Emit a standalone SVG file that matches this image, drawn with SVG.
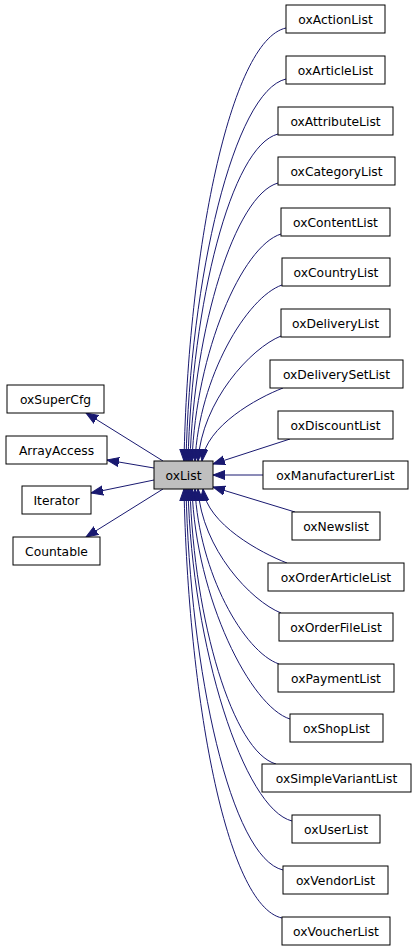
<svg xmlns="http://www.w3.org/2000/svg" width="416" height="949" viewBox="0 0 416 949">
<defs>
<style>
.n rect{fill:#ffffff;stroke:#000000;stroke-width:1}
.n text{font-family:"DejaVu Sans","Liberation Sans",sans-serif;font-size:12.3px;fill:#000000;text-anchor:middle}
#oxList rect{fill:#bfbfbf}
.e path{fill:none;stroke:#191970;stroke-width:1;marker-end:url(#arr)}
</style>
<marker id="arr" markerUnits="userSpaceOnUse" markerWidth="14" markerHeight="11" refX="12" refY="5" orient="auto">
<path d="M0,0.5 L12,5 L0,9.5 z" fill="#191970" stroke="#191970" stroke-width="1"/>
</marker>
</defs>
<rect width="416" height="949" fill="#ffffff"/>
<g id="edges" class="e">
<path d="M163,461 L86,413"/>
<path d="M154,468 L107,460"/>
<path d="M154,480 L91,493"/>
<path d="M163,489 L86,537"/>
<path d="M286,28 C230,40 188,253 184,461"/>
<path d="M286,79 C234,91 190,278 186,461"/>
<path d="M278,134 C231,146 192,304 188,461"/>
<path d="M278,183 C235,195 194,328 190,461"/>
<path d="M281,234 C242,246 196,352 192,461"/>
<path d="M282,285 C247,297 199,377 195,461"/>
<path d="M281,336 C251,348 202,401 198,461"/>
<path d="M283,388 C257,398 206,426 202,461"/>
<path d="M290,439 L213,464"/>
<path d="M263,475 L213,475"/>
<path d="M295,512 L213,487"/>
<path d="M287,563 C261,553 207,524 203,489"/>
<path d="M281,613 C251,601 202,549 198,489"/>
<path d="M279,664 C244,652 199,573 195,489"/>
<path d="M290,719 C251,707 196,599 192,489"/>
<path d="M276,764 C233,752 194,621 190,489"/>
<path d="M292,821 C244,809 192,648 188,489"/>
<path d="M283,870 C231,858 190,672 186,489"/>
<path d="M282,918 C226,906 188,695 184,489"/>
</g>
<g id="oxList" class="n"><rect x="154" y="461" width="59" height="28"/><text x="183.5" y="479.5">oxList</text></g>
<g id="oxSuperCfg" class="n"><rect x="7" y="385" width="97" height="28"/><text x="55.5" y="403.5">oxSuperCfg</text></g>
<g id="ArrayAccess" class="n"><rect x="6" y="436" width="101" height="28"/><text x="56.5" y="454.5">ArrayAccess</text></g>
<g id="Iterator" class="n"><rect x="22" y="486" width="69" height="28"/><text x="56.5" y="504.5">Iterator</text></g>
<g id="Countable" class="n"><rect x="13" y="537" width="87" height="28"/><text x="56.5" y="555.5">Countable</text></g>
<g id="oxActionList" class="n"><rect x="286" y="5" width="99" height="28"/><text x="335.5" y="23.5">oxActionList</text></g>
<g id="oxArticleList" class="n"><rect x="286" y="56" width="99" height="28"/><text x="335.5" y="74.5">oxArticleList</text></g>
<g id="oxAttributeList" class="n"><rect x="278" y="107" width="115" height="28"/><text x="335.5" y="125.5">oxAttributeList</text></g>
<g id="oxCategoryList" class="n"><rect x="278" y="157" width="117" height="28"/><text x="336.5" y="175.5">oxCategoryList</text></g>
<g id="oxContentList" class="n"><rect x="281" y="208" width="109" height="28"/><text x="335.5" y="226.5">oxContentList</text></g>
<g id="oxCountryList" class="n"><rect x="282" y="258" width="108" height="28"/><text x="336" y="276.5">oxCountryList</text></g>
<g id="oxDeliveryList" class="n"><rect x="281" y="309" width="109" height="28"/><text x="335.5" y="327.5">oxDeliveryList</text></g>
<g id="oxDeliverySetList" class="n"><rect x="270" y="360" width="133" height="28"/><text x="336.5" y="378.5">oxDeliverySetList</text></g>
<g id="oxDiscountList" class="n"><rect x="278" y="411" width="115" height="28"/><text x="335.5" y="429.5">oxDiscountList</text></g>
<g id="oxManufacturerList" class="n"><rect x="263" y="461" width="145" height="28"/><text x="335.5" y="479.5">oxManufacturerList</text></g>
<g id="oxNewslist" class="n"><rect x="292" y="512" width="88" height="28"/><text x="336" y="530.5">oxNewslist</text></g>
<g id="oxOrderArticleList" class="n"><rect x="268" y="563" width="136" height="28"/><text x="336" y="581.5">oxOrderArticleList</text></g>
<g id="oxOrderFileList" class="n"><rect x="279" y="613" width="114" height="28"/><text x="336" y="631.5">oxOrderFileList</text></g>
<g id="oxPaymentList" class="n"><rect x="278" y="664" width="116" height="28"/><text x="336" y="682.5">oxPaymentList</text></g>
<g id="oxShopList" class="n"><rect x="290" y="714" width="93" height="28"/><text x="336.5" y="732.5">oxShopList</text></g>
<g id="oxSimpleVariantList" class="n"><rect x="262" y="764" width="149" height="28"/><text x="336.5" y="782.5">oxSimpleVariantList</text></g>
<g id="oxUserList" class="n"><rect x="292" y="815" width="88" height="28"/><text x="336" y="833.5">oxUserList</text></g>
<g id="oxVendorList" class="n"><rect x="283" y="866" width="105" height="28"/><text x="335.5" y="884.5">oxVendorList</text></g>
<g id="oxVoucherList" class="n"><rect x="282" y="917" width="108" height="28"/><text x="336" y="935.5">oxVoucherList</text></g>
</svg>
